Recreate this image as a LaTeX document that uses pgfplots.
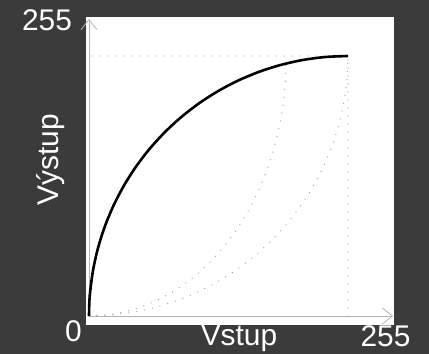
\documentclass[border=0pt]{standalone}
\usepackage{pgfplots}
\pgfplotsset{compat=1.18}
\usetikzlibrary{arrows.meta}
\usepackage{fontspec}
\setmainfont{Liberation Sans}
\definecolor{bg}{HTML}{3B3B3B}
\definecolor{axgray}{HTML}{B4B4B4}
\definecolor{dotgray}{HTML}{A0A0A0}
\pgfplotstableread{
x y
0 0
0.24 11.12
0.97 22.23
3.87 44.28
8.69 66.00
15.38 87.22
23.89 107.77
34.16 127.5
46.12 146.26
59.66 163.91
74.69 180.31
91.09 195.34
108.74 208.88
127.5 220.84
147.23 231.11
167.78 239.62
188.99 246.31
210.72 251.13
232.77 254.03
255 255
}\curvemain
\pgfplotstableread{
x y
0 0
11.12 0.24
22.23 0.97
44.28 3.87
66.00 8.69
87.22 15.38
107.77 23.89
127.5 34.16
146.26 46.12
163.91 59.66
180.31 74.69
195.34 91.09
208.88 108.74
220.84 127.5
231.11 147.23
239.62 167.78
246.31 188.99
251.13 210.72
254.03 232.77
255 255
}\curvetwo
\pgfplotstableread{
x y
0 0
16.91 0.96
33.69 3.81
50.21 8.55
66.35 15.14
81.99 23.52
97.0 33.63
111.27 45.39
124.70 58.73
137.18 73.52
148.61 89.66
158.92 107.03
168.01 125.5
175.82 144.92
182.30 165.15
187.39 186.04
191.05 207.41
193.26 229.12
194 251
}\curveone
\begin{document}
\begin{tikzpicture}
\path[use as bounding box] (0,0) rectangle (429bp,354bp);
\fill[bg] (0,0) rectangle (429bp,354bp);
\fill[white] (86bp,29bp) rectangle (394bp,337bp);
\begin{axis}[
  at={(89bp,38bp)}, anchor=south west,
  scale only axis, width=304bp, height=297bp,
  xmin=0, xmax=299.3, ymin=0, ymax=291.3,
  axis lines=left,
  axis line style={draw=axgray, line width=0.8bp, -{Straight Barb[length=10bp,width=16bp]}},
  xtick=\empty, ytick=\empty,
  clip=false,
]
\addplot[dotgray, line width=1.3bp, line cap=round, dash pattern=on 0bp off 8bp] coordinates {(3,255) (255,255)};
\addplot[dotgray, line width=1.3bp, line cap=round, dash pattern=on 0bp off 8bp] coordinates {(255,0) (255,255)};
\addplot[dotgray, line width=1.3bp, line cap=round, dash pattern=on 0bp off 8bp, smooth] table {\curveone};
\addplot[dotgray, line width=1.3bp, line cap=round, dash pattern=on 0bp off 8bp, smooth] table {\curvetwo};
\addplot[black, line width=2.6bp, smooth] table {\curvemain};
\end{axis}
\fontsize{30}{36}\selectfont
\node[white, anchor=base, inner sep=0] at (47bp,323bp) {255};
\node[white, anchor=base, inner sep=0] at (73.5bp,12.5bp) {0};
\node[white, anchor=base, inner sep=0] at (239bp,8.5bp) {Vstup};
\node[white, anchor=base, inner sep=0] at (385.5bp,8bp) {255};
\node[white, anchor=base, inner sep=0, rotate=90] at (58bp,194.5bp) {Výstup};
\end{tikzpicture}
\end{document}
